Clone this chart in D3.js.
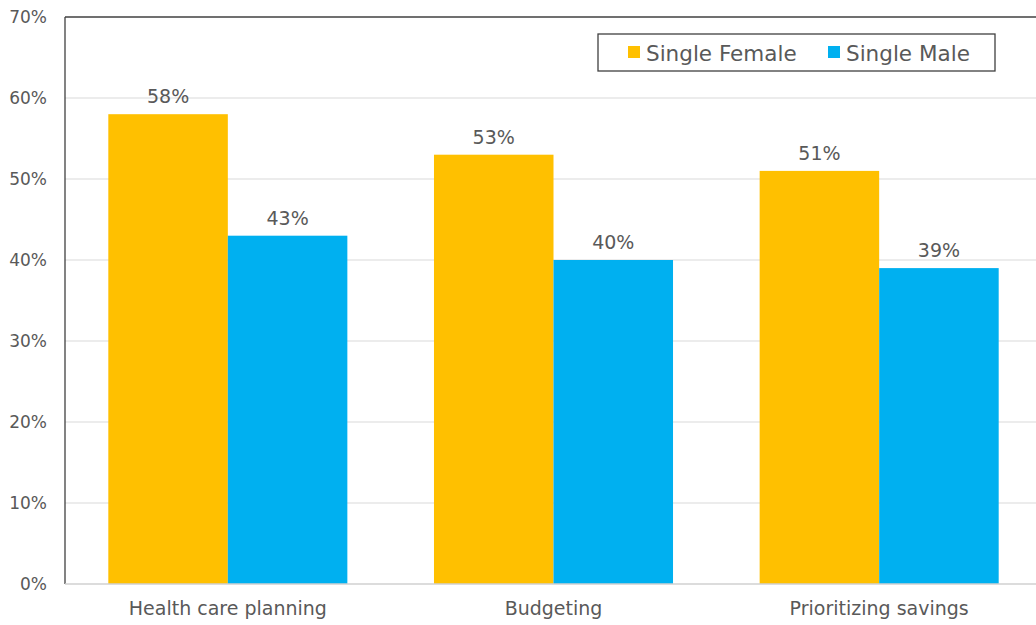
<!DOCTYPE html>
<meta charset="utf-8">
<script src="https://d3js.org/d3.v7.min.js"></script>
<style>
  body { margin: 0; background: #fff; }
  svg text { font-family: "DejaVu Sans", sans-serif; fill: #595959; }
</style>
<div id="chart"></div>
<script>
  // data
  const categories = ["Health care planning", "Budgeting", "Prioritizing savings"];
  const seriesNames = ["Single Female", "Single Male"];
  const singleFemale = [58, 53, 51];
  const singleMale = [43, 40, 39];
  const yTicks = [0, 10, 20, 30, 40, 50, 60, 70];
  const colors = ["#FFC000", "#00B0F0"];

  const W = 1036, H = 625;
  const margin = { top: 17, right: -6, bottom: 41, left: 65 };
  const width = W - margin.left - margin.right,
    height = H - margin.top - margin.bottom;

  const svg = d3.select("#chart").append("svg")
    .attr("width", W).attr("height", H);
  const g = svg.append("g")
    .attr("transform", `translate(${margin.left},${margin.top})`);

  const x = d3.scaleBand().domain(categories).range([0, width]).paddingInner(0).paddingOuter(0);
  const x1 = d3.scaleBand().domain(seriesNames).range([0, x.bandwidth() * 0.734])
  const groupOffset = (x.bandwidth() - x1.range()[1]) / 2;
  const y = d3.scaleLinear().domain([0, 70]).range([height, 0]);

  // gridlines
  g.selectAll(".grid").data(yTicks.filter(d => d > 0 && d < 70)).join("line")
    .attr("x1", 0).attr("x2", width)
    .attr("y1", d => y(d)).attr("y2", d => y(d))
    .attr("stroke", "#e6e6e6").attr("stroke-width", 1.3);

  // y tick labels
  g.selectAll(".ytick").data(yTicks).join("text")
    .attr("x", -18).attr("y", d => y(d))
    .attr("dy", "0.35em")
    .attr("text-anchor", "end")
    .style("font-size", "17px")
    .text(d => d + "%");

  // bars
  const rows = categories.map((c, i) => ({ cat: c, vals: [singleFemale[i], singleMale[i]] }));
  const groups = g.selectAll(".grp").data(rows).join("g")
    .attr("transform", d => `translate(${x(d.cat) + groupOffset},0)`);

  groups.selectAll("rect").data(d => d.vals.map((v, j) => ({ s: seriesNames[j], v, j }))).join("rect")
    .attr("x", d => x1(d.s))
    .attr("width", x1.bandwidth())
    .attr("y", d => y(d.v))
    .attr("height", d => height - y(d.v))
    .attr("fill", d => colors[d.j]);

  groups.selectAll(".lbl").data(d => d.vals.map((v, j) => ({ s: seriesNames[j], v, j }))).join("text")
    .attr("x", d => x1(d.s) + x1.bandwidth() / 2)
    .attr("y", d => y(d.v) - 11)
    .attr("text-anchor", "middle")
    .style("font-size", "19px")
    .text(d => d.v + "%");

  // frame: left and top dark, bottom axis light
  g.append("line").attr("x1", 0).attr("x2", 0).attr("y1", 0).attr("y2", height)
    .attr("stroke", "#404040").attr("stroke-width", 1.3);
  g.append("line").attr("x1", 0).attr("x2", width).attr("y1", 0).attr("y2", 0)
    .attr("stroke", "#404040").attr("stroke-width", 1.3);
  g.append("line").attr("x1", 0).attr("x2", width).attr("y1", height).attr("y2", height)
    .attr("stroke", "#d0d0d0").attr("stroke-width", 1.5);

  // category labels
  g.selectAll(".xlab").data(categories).join("text")
    .attr("x", d => x(d) + x.bandwidth() / 2)
    .attr("y", height + 31)
    .attr("text-anchor", "middle")
    .style("font-size", "19px")
    .text(d => d);

  // legend
  const legend = svg.append("g").attr("transform", "translate(598,34)");
  legend.append("rect").attr("width", 397).attr("height", 37)
    .attr("fill", "#fff").attr("stroke", "#404040").attr("stroke-width", 1.3);
  const legX = [30, 230];
  seriesNames.forEach((s, i) => {
    legend.append("rect").attr("x", legX[i]).attr("y", 12).attr("width", 12).attr("height", 12)
      .attr("fill", colors[i]);
    legend.append("text").attr("x", legX[i] + 18).attr("y", 19).attr("dy", "0.35em")
      .style("font-size", "21.5px").text(s);
  });
</script>
